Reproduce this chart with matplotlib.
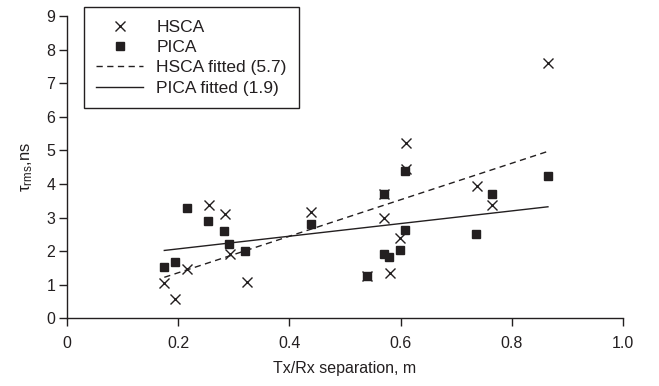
import matplotlib
matplotlib.use("Agg")
import matplotlib.pyplot as plt

plt.rcParams['font.family'] = ['Liberation Sans', 'DejaVu Sans']
plt.rcParams['mathtext.fontset'] = 'custom'
plt.rcParams['mathtext.rm'] = 'Liberation Sans'
plt.rcParams['mathtext.it'] = 'Liberation Sans:italic'

INK = '#231f20'

# HSCA measurements (Tx/Rx separation in m, tau_rms in ns)
hsca_x = [0.175, 0.195, 0.215, 0.256, 0.284, 0.293, 0.324, 0.438,
          0.540, 0.570, 0.571, 0.581, 0.599, 0.609, 0.609, 0.737, 0.765, 0.865]
hsca_y = [1.04, 0.56, 1.46, 3.37, 3.10, 1.91, 1.07, 3.17,
          1.26, 3.70, 2.98, 1.34, 2.38, 4.45, 5.22, 3.95, 3.37, 7.60]

# PICA measurements
pica_x = [0.175, 0.194, 0.215, 0.254, 0.282, 0.291, 0.321, 0.439,
          0.539, 0.570, 0.570, 0.580, 0.599, 0.608, 0.608, 0.736, 0.764, 0.865]
pica_y = [1.52, 1.69, 3.27, 2.91, 2.60, 2.20, 2.01, 2.80,
          1.26, 3.70, 1.90, 1.82, 2.02, 2.62, 4.38, 2.52, 3.70, 4.24]

# fitted lines (end points)
fit_x = [0.175, 0.865]
hsca_fit = [1.22, 4.97]
pica_fit = [2.02, 3.32]

xticks = [0, 0.2, 0.4, 0.6, 0.8, 1.0]
xticklabels = ['0', '0.2', '0.4', '0.6', '0.8', '1.0']
yticks = list(range(0, 10))

fig = plt.figure(figsize=(6.59, 3.86), dpi=100)
ax = fig.add_axes([67/659, 1 - 318.3/386, (623-67)/659, (318.3-16)/386])

ax.plot(hsca_x, hsca_y, linestyle='none', marker='x', markersize=6.5,
        markeredgewidth=1.0, color=INK, label='HSCA', zorder=3)
ax.plot(pica_x, pica_y, linestyle='none', marker='s', markersize=6,
        color=INK, label='PICA', zorder=4)
ax.plot(fit_x, hsca_fit, linestyle=(0, (4.5, 3.2)), linewidth=1.0,
        color=INK, label='HSCA fitted (5.7)', zorder=2)
ax.plot(fit_x, pica_fit, linestyle='-', linewidth=1.0,
        color=INK, label='PICA fitted (1.9)', zorder=2)

ax.set_xlim(0, 1.0)
ax.set_ylim(0, 9)
ax.set_xticks(xticks)
ax.set_xticklabels(xticklabels)
ax.set_yticks(yticks)
for s in ['top', 'right']:
    ax.spines[s].set_visible(False)
for s in ['left', 'bottom']:
    ax.spines[s].set_linewidth(1.0)
    ax.spines[s].set_color(INK)
ax.tick_params(direction='out', length=5.5, width=1.0, colors=INK,
               labelsize=11.5)
ax.tick_params(axis='x', pad=7.5)
ax.tick_params(axis='y', pad=3)

ax.set_xlabel('Tx/Rx separation, m', fontsize=11.5, color=INK, labelpad=7)
ax.set_ylabel(r'$\mathrm{\tau}_{\mathrm{rms}}$,ns', fontsize=12, color=INK, labelpad=8)

leg = ax.legend(loc='upper left', bbox_to_anchor=(84.3/659, 1 - 7.3/386),
                bbox_transform=fig.transFigure, borderaxespad=0,
                fontsize=12.5, frameon=True, fancybox=False, shadow=False,
                handlelength=2.7, handletextpad=0.75, labelspacing=0.3,
                borderpad=0.7, framealpha=1)
leg.get_frame().set_edgecolor(INK)
leg.get_frame().set_linewidth(1.0)
for t in leg.get_texts():
    t.set_color(INK)

fig.savefig('out.png', dpi=100)
